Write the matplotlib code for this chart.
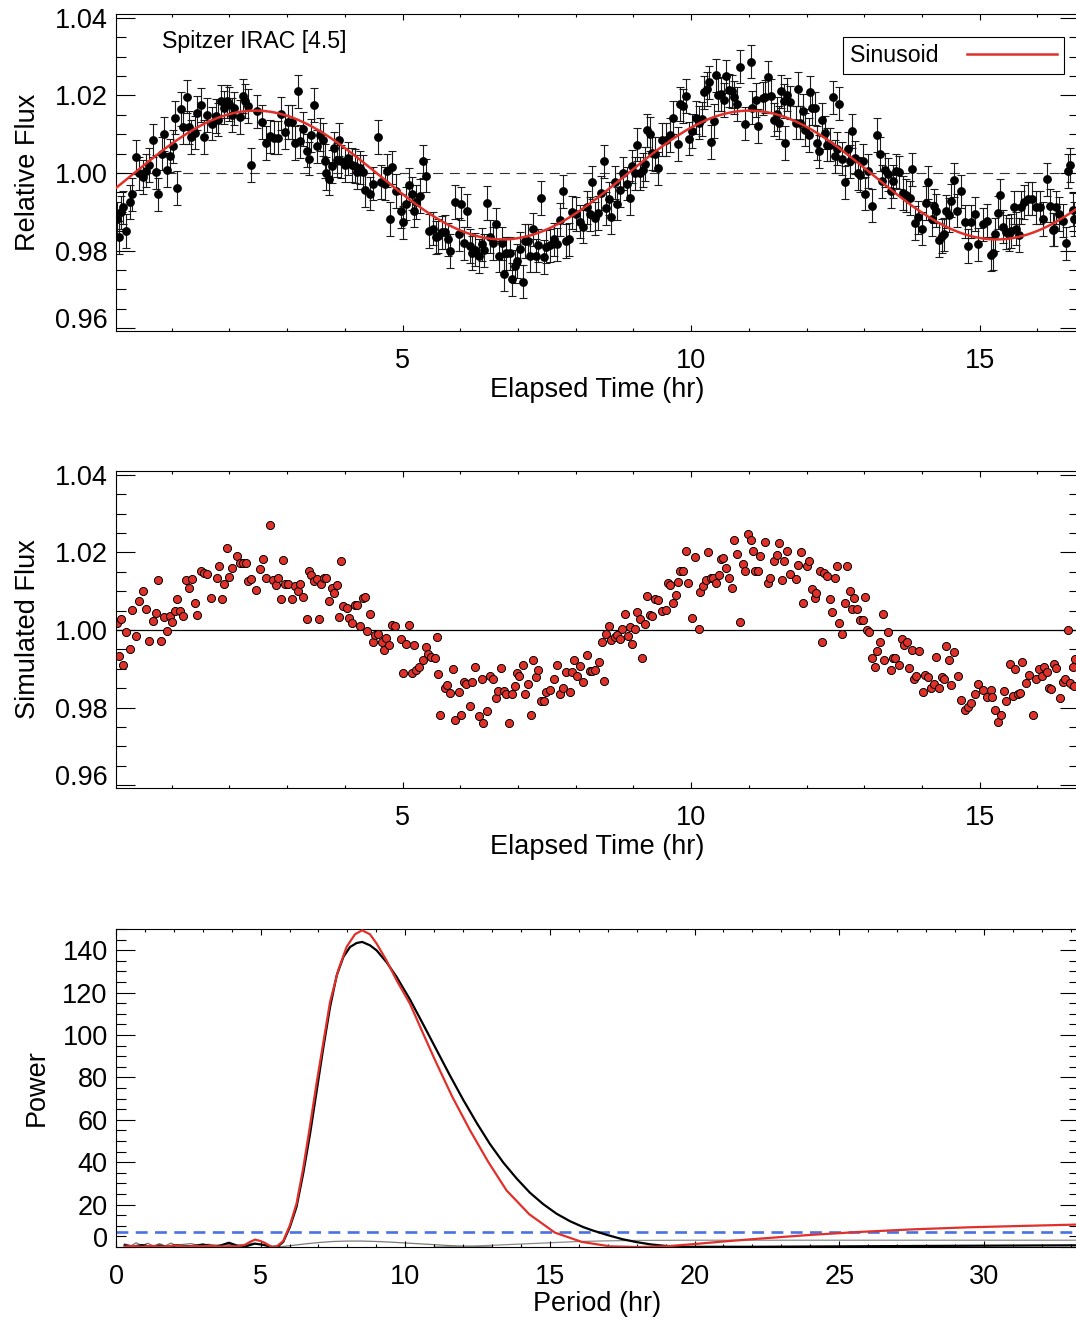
import matplotlib
matplotlib.use("Agg")
import matplotlib.pyplot as plt
import numpy as np
from matplotlib.lines import Line2D
from matplotlib.ticker import MultipleLocator, FormatStrFormatter

plt.rcParams['font.family'] = ['Liberation Sans', 'DejaVu Sans']

# ---- panel 1: Spitzer light curve (hours, relative flux) ----
time_obs = [
    0.06, 0.08, 0.12, 0.16, 0.21, 0.27, 0.31, 0.39, 0.44, 0.51,
    0.55, 0.61, 0.67, 0.73, 0.77, 0.83, 0.87, 0.91, 0.97, 1.02,
    1.06, 1.10, 1.16, 1.20, 1.26, 1.30, 1.34, 1.41, 1.44, 1.51,
    1.56, 1.62, 1.69, 1.77, 1.81, 1.86, 1.91, 1.95, 2.00, 2.04,
    2.08, 2.18, 2.23, 2.27, 2.33, 2.38, 2.47, 2.57, 2.63, 2.70,
    2.77, 2.85, 2.90, 2.96, 3.02, 3.08, 3.14, 3.19, 3.23, 3.28,
    3.34, 3.38, 3.42, 3.47, 3.51, 3.57, 3.63, 3.65, 3.68, 3.73,
    3.77, 3.81, 3.86, 3.90, 3.94, 4.00, 4.06, 4.12, 4.17, 4.21,
    4.26, 4.32, 4.35, 4.43, 4.49, 4.58, 4.62, 4.69, 4.73, 4.78,
    4.81, 4.88, 4.97, 5.01, 5.06, 5.12, 5.16, 5.20, 5.24, 5.30,
    5.35, 5.40, 5.46, 5.52, 5.58, 5.62,
    5.68, 5.73, 5.79, 5.83, 5.91, 5.98, 6.02, 6.06, 6.11, 6.16,
    6.21, 6.26, 6.32, 6.37, 6.41, 6.47, 6.51, 6.57, 6.62, 6.67,
    6.72, 6.76, 6.80, 6.86, 6.90, 6.95, 6.99, 7.03, 7.08, 7.13,
    7.18, 7.21, 7.26, 7.31, 7.35, 7.40, 7.45, 7.49, 7.55, 7.62,
    7.68, 7.73, 7.78, 7.83, 7.89, 7.94, 8.01, 8.07, 8.13, 8.19,
    8.24, 8.28, 8.33, 8.39, 8.44, 8.49, 8.53, 8.57, 8.62, 8.68,
    8.72, 8.76, 8.82, 8.88, 8.94, 8.97, 9.02, 9.06, 9.11, 9.16,
    9.20, 9.24, 9.28, 9.33, 9.37, 9.42, 9.50, 9.56, 9.63, 9.69,
    9.77, 9.80, 9.86, 9.91, 9.97, 10.02, 10.08, 10.14, 10.19, 10.22,
    10.27, 10.31, 10.35, 10.39, 10.43, 10.47, 10.51, 10.57, 10.60, 10.66,
    10.70, 10.75, 10.79, 10.84, 10.93, 11.03, 11.06, 11.12, 11.16,
    11.24, 11.28, 11.33, 11.39, 11.43, 11.48, 11.52, 11.56, 11.61, 11.62,
    11.66, 11.72, 11.81, 11.86, 11.89, 11.94, 11.97, 12.04, 12.06, 12.10,
    12.14, 12.18, 12.22, 12.26, 12.32, 12.35, 12.40, 12.45, 12.49, 12.53,
    12.57, 12.62, 12.66, 12.71, 12.75, 12.79, 12.84, 12.89, 12.93, 12.98,
    13.01, 13.07, 13.14, 13.22, 13.27, 13.31, 13.36, 13.41, 13.46, 13.50,
    13.55, 13.60, 13.67, 13.73, 13.79, 13.82, 13.87, 13.93, 14.00, 14.07,
    14.11, 14.17, 14.21, 14.25, 14.30, 14.34, 14.38, 14.42, 14.47, 14.51,
    14.56, 14.61, 14.67, 14.74, 14.80, 14.85, 14.91, 14.97, 15.05, 15.13,
    15.19, 15.23, 15.27, 15.31, 15.35, 15.40, 15.46, 15.51, 15.55, 15.60,
    15.63, 15.68, 15.72, 15.77, 15.83, 15.90, 15.98, 16.04, 16.10, 16.17,
    16.22, 16.27, 16.29, 16.33, 16.38, 16.44, 16.50, 16.53, 16.57, 16.61,
    16.64,
]
flux_obs = [
    0.9882, 0.9834, 0.9899, 0.9912, 0.9851, 0.9925, 0.9945, 1.0041, 0.9999, 0.9990,
    1.0006, 1.0021, 1.0084, 1.0003, 0.9945, 1.0050, 1.0101, 1.0008, 1.0045, 1.0069,
    1.0143, 0.9962, 1.0165, 1.0118, 1.0197, 1.0118, 1.0093, 1.0104, 1.0155, 1.0175,
    1.0093, 1.0150, 1.0127, 1.0147, 1.0138, 1.0185, 1.0169, 1.0185, 1.0178, 1.0150,
    1.0167, 1.0145, 1.0199, 1.0186, 1.0173, 1.0021, 1.0159, 1.0132, 1.0078, 1.0095,
    1.0091, 1.0091, 1.0153, 1.0106, 1.0132, 1.0132, 1.0078, 1.0211, 1.0082, 1.0114,
    1.0058, 1.0037, 1.0097, 1.0175, 1.0069, 1.0099, 1.0086, 1.0031, 0.9999, 0.9986,
    1.0017, 1.0064, 1.0034, 1.0086, 1.0030, 1.0021, 1.0038, 1.0021, 1.0018, 1.0003,
    1.0014, 1.0003, 0.9956, 0.9947, 0.9973, 1.0093, 0.9977, 0.9973, 1.0006, 0.9882,
    1.0015, 0.9954, 0.9902, 0.9873, 0.9921, 0.9969, 0.9947, 0.9903, 0.9925, 0.9941,
    1.0030, 0.9993, 0.9851, 0.9857, 0.9834, 0.9838,
    0.9847, 0.9848, 0.9829, 0.9799, 0.9925, 0.9842, 0.9921, 0.9819, 0.9903, 0.9812,
    0.9794, 0.9803, 0.9786, 0.9816, 0.9801, 0.9923, 0.9836, 0.9819, 0.9868, 0.9787,
    0.9819, 0.9740, 0.9793, 0.9793, 0.9726, 0.9760, 0.9773, 0.9805, 0.9720, 0.9825,
    0.9825, 0.9787, 0.9855, 0.9787, 0.9814, 0.9936, 0.9784, 0.9810, 0.9814, 0.9829,
    0.9816, 0.9880, 0.9953, 0.9825, 0.9829, 0.9899, 0.9895, 0.9875, 0.9862, 0.9912,
    0.9895, 0.9976, 0.9883, 0.9897, 0.9949, 1.0030, 0.9909, 0.9934, 0.9886, 0.9976,
    0.9921, 0.9956, 0.9999, 0.9973, 0.9936, 1.0017, 0.9999, 1.0073, 0.9999, 1.0008,
    1.0023, 1.0110, 1.0101, 1.0051, 1.0049, 1.0012, 1.0086, 1.0086, 1.0098, 1.0143,
    1.0075, 1.0178, 1.0173, 1.0199, 1.0089, 1.0108, 1.0143, 1.0130, 1.0139, 1.0208,
    1.0217, 1.0234, 1.0080, 1.0134, 1.0252, 1.0202, 1.0204, 1.0188, 1.0249, 1.0213,
    1.0211, 1.0195, 1.0178, 1.0274, 1.0127, 1.0287, 1.0169, 1.0188, 1.0121,
    1.0193, 1.0197, 1.0247, 1.0199, 1.0138, 1.0152, 1.0130, 1.0211, 1.0186, 1.0078,
    1.0202, 1.0182, 1.0130, 1.0217, 1.0130, 1.0160, 1.0112, 1.0098, 1.0208, 1.0167,
    1.0167, 1.0078, 1.0056, 1.0138, 1.0104, 1.0073, 1.0073, 1.0195, 1.0043, 1.0063,
    1.0179, 1.0037, 0.9976, 1.0063, 1.0030, 1.0108, 1.0040, 0.9999, 0.9995, 1.0031,
    0.9947, 1.0005, 0.9916, 1.0098, 1.0049, 0.9979, 1.0008, 0.9997, 0.9953, 0.9979,
    1.0005, 1.0002, 0.9949, 0.9943, 0.9936, 1.0010, 0.9871, 0.9886, 0.9857, 0.9923,
    0.9976, 0.9882, 0.9915, 0.9903, 0.9828, 0.9838, 0.9842, 0.9901, 0.9892, 0.9929,
    0.9982, 0.9903, 0.9953, 0.9875, 0.9812, 0.9875, 0.9895, 0.9816, 0.9868, 0.9877,
    0.9790, 0.9793, 0.9842, 0.9898, 0.9943, 0.9862, 0.9848, 0.9842, 0.9851, 0.9912,
    0.9857, 0.9840, 0.9912, 0.9925, 0.9934, 0.9934, 0.9912, 0.9912, 0.9882, 0.9984,
    0.9916, 0.9854, 0.9855, 0.9912, 0.9895, 0.9877, 0.9819, 1.0005, 1.0021, 0.9906,
    0.9882,
]
flux_err = 0.0043

# sinusoid fit
fit_mean = 0.9995
fit_amp = 0.0166
fit_period = 8.56
fit_peak_time = 2.45

# ---- panel 2: simulated light curve ----
time_sim = [
    0.06, 0.08, 0.12, 0.16, 0.21, 0.27, 0.31, 0.39, 0.44, 0.51,
    0.55, 0.61, 0.67, 0.72, 0.77, 0.81, 0.87, 0.92, 0.97, 1.01,
    1.06, 1.10, 1.15, 1.20, 1.24, 1.30, 1.35, 1.40, 1.44, 1.50,
    1.56, 1.62, 1.68, 1.78, 1.82, 1.87, 1.91, 1.95, 2.00, 2.04,
    2.13, 2.18, 2.24, 2.28, 2.32, 2.37, 2.46, 2.53, 2.58, 2.63,
    2.71, 2.75, 2.80, 2.85, 2.89, 2.92, 2.96, 3.02, 3.08, 3.14,
    3.19, 3.23, 3.28, 3.34, 3.38, 3.42, 3.46, 3.51, 3.55, 3.59,
    3.64, 3.68, 3.72, 3.77, 3.82, 3.87, 3.90, 3.94, 3.97, 4.03,
    4.08, 4.12, 4.17, 4.21, 4.26, 4.31, 4.35, 4.39, 4.43, 4.48,
    4.53, 4.58, 4.64, 4.68, 4.72, 4.77, 4.81, 4.87, 4.97, 5.01,
    5.06, 5.12, 5.16, 5.20, 5.24, 5.29, 5.35, 5.40, 5.44, 5.50,
    5.56, 5.59, 5.62, 5.65,
    5.73, 5.77, 5.82, 5.87, 5.91, 5.98, 6.02, 6.06, 6.10, 6.16,
    6.21, 6.25, 6.32, 6.37, 6.40, 6.47, 6.51, 6.57, 6.62, 6.66,
    6.70, 6.76, 6.80, 6.85, 6.89, 6.95, 6.99, 7.02, 7.08, 7.13,
    7.18, 7.22, 7.26, 7.31, 7.35, 7.40, 7.45, 7.49, 7.55, 7.62,
    7.67, 7.73, 7.78, 7.83, 7.90, 7.93, 7.97, 8.03, 8.07, 8.13,
    8.19, 8.24, 8.28, 8.33, 8.40, 8.45, 8.49, 8.53, 8.57, 8.62,
    8.68, 8.72, 8.76, 8.81, 8.85, 8.90, 8.94, 8.98, 9.02, 9.06,
    9.11, 9.15, 9.20, 9.24, 9.28, 9.33, 9.37, 9.42, 9.50, 9.56,
    9.60, 9.64, 9.69, 9.74, 9.78, 9.81, 9.86, 9.91, 9.95, 10.02,
    10.06, 10.13, 10.16, 10.21, 10.26, 10.30, 10.35, 10.38, 10.43, 10.48,
    10.51, 10.56, 10.60, 10.66, 10.70, 10.74, 10.80, 10.84, 10.89, 10.93,
    10.99, 11.03, 11.07, 11.11, 11.16, 11.19,
    11.28, 11.33, 11.37, 11.43, 11.48, 11.52, 11.57, 11.61, 11.66, 11.72,
    11.81, 11.85, 11.90, 11.94, 12.00, 12.04, 12.09, 12.14, 12.17, 12.23,
    12.26, 12.30, 12.35, 12.40, 12.44, 12.49, 12.53, 12.57, 12.62, 12.66,
    12.70, 12.75, 12.79, 12.83, 12.88, 12.92, 12.97, 13.01, 13.04, 13.08,
    13.14, 13.18, 13.22, 13.27, 13.32, 13.35, 13.41, 13.46, 13.50, 13.54,
    13.60, 13.65, 13.69, 13.74, 13.78, 13.82, 13.86, 13.90, 13.95, 14.01,
    14.05, 14.11, 14.15, 14.20, 14.25, 14.30, 14.34, 14.38, 14.42, 14.47,
    14.51, 14.55, 14.62, 14.68, 14.74, 14.80, 14.85, 14.92, 14.97, 15.05,
    15.13, 15.19, 15.22, 15.27, 15.31, 15.36, 15.42, 15.46, 15.52, 15.57,
    15.61, 15.66, 15.70, 15.74, 15.80, 15.85, 15.92, 15.98, 16.02, 16.08,
    16.12, 16.17, 16.20, 16.24, 16.29, 16.33, 16.39, 16.44, 16.48, 16.53,
    16.57, 16.61, 16.63, 16.65,
]
flux_sim = [
    1.0017, 0.9932, 1.0029, 0.9910, 0.9994, 0.9952, 1.0051, 0.9985, 1.0074, 1.0100,
    1.0054, 0.9971, 1.0024, 1.0045, 1.0130, 0.9971, 1.0035, 0.9997, 1.0037, 1.0022,
    1.0048, 1.0080, 1.0048, 1.0037, 1.0130, 1.0109, 1.0132, 1.0071, 1.0039, 1.0151,
    1.0148, 1.0145, 1.0083, 1.0135, 1.0166, 1.0080, 1.0120, 1.0212, 1.0138, 1.0159,
    1.0190, 1.0172, 1.0172, 1.0172, 1.0126, 1.0131, 1.0103, 1.0157, 1.0184, 1.0134,
    1.0272, 1.0129, 1.0116, 1.0135, 1.0080, 1.0180, 1.0118, 1.0118, 1.0081, 1.0113,
    1.0102, 1.0118, 1.0085, 1.0028, 1.0151, 1.0142, 1.0126, 1.0131, 1.0028, 1.0119,
    1.0133, 1.0135, 1.0074, 1.0109, 1.0096, 1.0116, 1.0035, 1.0179, 1.0061, 1.0057,
    1.0032, 1.0017, 1.0064, 1.0065, 1.0011, 1.0083, 1.0086, 0.9997, 1.0042, 0.9970,
    0.9987, 0.9991, 0.9970, 0.9948, 0.9980, 0.9961, 1.0013, 1.0011, 0.9978, 0.9889,
    0.9963, 1.0013, 0.9889, 0.9961, 0.9898, 0.9904, 0.9922, 0.9956, 0.9939, 0.9930,
    0.9928, 0.9983, 0.9887, 0.9782,
    0.9852, 0.9858, 0.9839, 0.9900, 0.9769, 0.9841, 0.9782, 0.9867, 0.9861, 0.9804,
    0.9867, 0.9906, 0.9778, 0.9874, 0.9760, 0.9791, 0.9882, 0.9874, 0.9826, 0.9843,
    0.9902, 0.9843, 0.9835, 0.9760, 0.9835, 0.9855, 0.9889, 0.9881, 0.9909, 0.9835,
    0.9861, 0.9780, 0.9922, 0.9878, 0.9898, 0.9817, 0.9817, 0.9841, 0.9846, 0.9875,
    0.9910, 0.9835, 0.9852, 0.9893, 0.9841, 0.9893, 0.9922, 0.9882, 0.9907, 0.9867,
    0.9936, 0.9895, 0.9895, 0.9898, 0.9919, 0.9968, 0.9869, 0.9991, 1.0011, 0.9974,
    0.9983, 0.9987, 0.9976, 1.0003, 1.0041, 0.9985, 1.0009, 0.9965, 1.0003, 1.0046,
    1.0029, 0.9928, 1.0015, 1.0087, 1.0039, 1.0037, 1.0081, 1.0078, 1.0050, 1.0052,
    1.0122, 1.0116, 1.0070, 1.0090, 1.0124, 1.0152, 1.0152, 1.0205, 1.0122, 1.0032,
    1.0189, 1.0004, 1.0098, 1.0113, 1.0128, 1.0202, 1.0133, 1.0133, 1.0122, 1.0142,
    1.0183, 1.0187, 1.0161, 1.0133, 1.0109, 1.0233, 1.0196, 1.0022, 1.0170, 1.0152,
    1.0248, 1.0231, 1.0205, 1.0152, 1.0152, 1.0192,
    1.0226, 1.0122, 1.0133, 1.0179, 1.0193, 1.0225, 1.0128, 1.0179, 1.0205, 1.0145,
    1.0131, 1.0168, 1.0200, 1.0070, 1.0165, 1.0177, 1.0105, 1.0083, 1.0096, 1.0151,
    0.9968, 1.0148, 1.0139, 1.0080, 1.0046, 1.0135, 1.0165, 1.0017, 0.9989, 1.0071,
    1.0165, 1.0100, 1.0055, 1.0083, 1.0055, 1.0026, 1.0026, 1.0084, 1.0000, 0.9996,
    0.9928, 0.9906, 0.9945, 0.9970, 1.0041, 0.9922, 0.9994, 0.9898, 0.9928, 0.9928,
    0.9910, 0.9976, 0.9961, 0.9970, 0.9902, 0.9948, 0.9875, 0.9881, 0.9945, 0.9841,
    0.9884, 0.9878, 0.9852, 0.9861, 0.9930, 0.9852, 0.9878, 0.9874, 0.9959, 0.9922,
    0.9858, 0.9943, 0.9881, 0.9820, 0.9795, 0.9802, 0.9813, 0.9835, 0.9861, 0.9846,
    0.9828, 0.9846, 0.9828, 0.9795, 0.9762, 0.9782, 0.9843, 0.9817, 0.9913, 0.9830,
    0.9900, 0.9835, 0.9837, 0.9919, 0.9863, 0.9884, 0.9780, 0.9875, 0.9900, 0.9882,
    0.9904, 0.9891, 0.9852, 0.9848, 0.9913, 0.9902, 0.9826, 0.9867, 0.9875, 1.0000,
    0.9863, 0.9904, 0.9856, 0.9926,
]

# ---- panel 3: periodograms ----
period_obs = [0.3, 0.6, 0.9, 1.2, 1.5, 1.8, 2.1, 2.4, 2.7, 3.0, 3.3, 3.6, 3.9, 4.2, 4.5, 4.8, 5.1, 5.4, 5.6,
              5.78, 6.01, 6.24, 6.47, 6.71, 6.94, 7.17, 7.40,
              7.63, 7.86, 8.09, 8.32, 8.51, 8.78, 9.01, 9.35, 9.70,
              10.16, 10.62, 11.08, 11.54, 12.00, 12.47, 12.93, 13.39, 13.85,
              14.31, 14.77, 15.23, 15.69, 16.15, 16.5, 17.0, 17.5, 18.0,
              18.5, 19.0, 19.5, 22.0, 25.0, 28.0, 33.3]
power_obs = [0.8, 0.3, 0.9, 0.2, 0.7, 0.1, 0.9, 0.3, 0.5, 1.2, 0.4, 0.6, 2.0, 0.6, 0.4, 1.6, 1.0, 0.0, 0.3,
             2.4, 9.4, 18.9, 34.6, 53.5, 73.9, 94.3, 113.2,
             128.1, 136.8, 141.5, 143.4, 143.9, 142.3, 139.9, 134.4, 127.4,
             116.8, 105.0, 93.0, 81.0, 69.5, 58.5, 48.5, 39.8, 32.3,
             25.6, 20.2, 15.7, 12.2, 9.4, 7.7, 5.6, 3.7, 2.3,
             1.2, 0.5, 0.1, 0.1, 0.3, 0.5, 0.8]

period_sim = [0.3, 0.6, 0.9, 1.2, 1.5, 1.8, 2.1, 2.4, 2.7, 3.0, 3.3, 3.6, 3.9, 4.2,
              4.45, 4.63, 4.81, 5.0, 5.15, 5.39, 5.55,
              5.78, 6.01, 6.24, 6.47, 6.71, 6.94, 7.17, 7.40,
              7.68, 7.97, 8.26, 8.51, 8.78, 9.01, 9.35, 9.70,
              10.16, 10.62, 11.03, 11.62, 12.24, 12.87, 13.50,
              14.29, 15.17, 16.10, 17.08, 18.0, 19.0, 20.0,
              21.0, 22.3, 24.0, 25.7, 27.5, 29.5, 31.5, 33.3]
power_sim = [0.2, 0.5, 0.1, 0.6, 0.2, 0.4, 0.8, 0.2, 0.5, 0.3, 0.6, 0.2, 0.4, 0.3,
             1.0, 2.4, 3.5, 2.8, 1.9, 0.0, 0.2,
             2.8, 10.2, 20.4, 37.0, 57.4, 77.8, 96.7, 115.6,
             130.5, 141.5, 147.5, 149.4, 147.5, 143.1, 135.2, 125.8,
             114.8, 100.6, 88.1, 71.0, 55.0, 40.1, 26.7,
             15.4, 6.8, 2.4, 0.3, 0.0, 0.3, 1.4,
             2.6, 4.0, 5.7, 7.1, 8.3, 9.3, 10.0, 10.6]

noise_period_a = [0.3, 0.5, 0.7, 0.9, 1.1, 1.3, 1.5, 1.7, 1.9, 2.1, 2.3, 2.6, 2.9, 3.2, 3.5, 3.8,
                  4.1, 4.4, 4.7, 5.0, 5.3, 5.6, 6.0, 6.5, 7.0, 7.5, 8.0, 8.5, 9.0, 9.5, 10.0,
                  10.5, 11.0, 11.5, 12.0, 13.0]
noise_power_a = [1.5, 0.4, 2.0, 0.6, 1.8, 0.3, 1.6, 0.5, 1.9, 0.4, 1.2, 1.6, 0.5, 1.3, 0.7, 1.5,
                 0.6, 1.0, 1.8, 1.2, 0.5, 0.0, 0.6, 1.4, 2.1, 2.6, 2.8, 2.8, 2.6, 2.3, 1.9,
                 1.5, 1.1, 0.7, 0.4, 0.0]
noise_period_b = [11.0, 12.0, 13.0, 14.0, 15.0, 16.0, 17.0, 18.0, 20.0, 22.0, 25.0, 28.0, 31.0, 33.3]
noise_power_b = [0.0, 0.3, 0.8, 1.4, 2.0, 2.6, 2.9, 3.1, 3.2, 3.2, 3.2, 3.2, 3.2, 3.2]
false_alarm_level = 7.0

RED = '#e0302a'
FS = 19.5
W, H = 1076, 1319

fig = plt.figure(figsize=(W / 100, H / 100), dpi=100)


def px_axes(left, top, right, bottom):
    return fig.add_axes([left / W, 1 - bottom / H, (right - left) / W, (bottom - top) / H])


def style(ax, xmaj, xmin, ymaj, ymin):
    ax.xaxis.set_major_locator(MultipleLocator(xmaj))
    ax.xaxis.set_minor_locator(MultipleLocator(xmin))
    ax.yaxis.set_major_locator(MultipleLocator(ymaj))
    ax.yaxis.set_minor_locator(MultipleLocator(ymin))
    ax.tick_params(which='both', direction='in', top=True, right=True,
                   labelsize=FS, width=0.8, color='black')
    ax.tick_params(axis='x', which='major', length=4.5, pad=12)
    ax.tick_params(axis='x', which='minor', length=2.2)
    ax.tick_params(axis='y', which='major', length=13.7, pad=6)
    ax.tick_params(axis='y', which='minor', length=7)
    for s in ax.spines.values():
        s.set_linewidth(0.8)


ax1 = px_axes(116, 14, 1079, 331)
ax2 = px_axes(116, 471, 1079, 788)
ax3 = px_axes(116, 929, 1079, 1247)

# panel 1
ax1.axhline(1.0, color='#333333', lw=0.8, ls=(0, (9, 6)), zorder=1)
ax1.errorbar(time_obs, flux_obs, yerr=flux_err, fmt='o', color='black', ms=5.3,
             ecolor='#1a1a1a', elinewidth=0.8, capsize=2.8, capthick=0.8, zorder=2)
t_fit = np.linspace(0, 16.8, 400)
ax1.plot(t_fit, fit_mean + fit_amp * np.cos(2 * np.pi * (t_fit - fit_peak_time) / fit_period),
         color=RED, lw=1.8, zorder=3)
ax1.set_xlim(0.035, 16.72)
ax1.set_ylim(0.9593, 1.041)
style(ax1, 5, 1, 0.02, 0.005)
ax1.yaxis.set_major_formatter(FormatStrFormatter('%.2f'))
ax1.set_xlabel('Elapsed Time (hr)', fontsize=FS)
ax1.set_ylabel('Relative Flux', fontsize=FS)
ax1.xaxis.set_label_coords(0.5, -0.145)
ax1.yaxis.set_label_coords(-0.078, 0.5)
ax1.text(0.048, 0.912, 'Spitzer IRAC [4.5]', transform=ax1.transAxes,
         fontsize=16.7, va='center', ha='left')
leg = ax1.legend(handles=[Line2D([], [], color=RED, lw=1.8)], labels=['Sinusoid'],
                 loc='upper right', bbox_to_anchor=(0.9844, 0.9274), markerfirst=False,
                 fancybox=False, edgecolor='black', framealpha=1, fontsize=16.7,
                 handlelength=3.9, handletextpad=1.2, borderpad=0.3, borderaxespad=0)
leg.get_frame().set_linewidth(0.8)

# panel 2
ax2.axhline(1.0, color='black', lw=0.9, zorder=1)
ax2.plot(time_sim, flux_sim, 'o', mfc=RED, mec='black', mew=0.7, ms=5.8, zorder=2)
ax2.set_xlim(0.035, 16.72)
ax2.set_ylim(0.9593, 1.041)
style(ax2, 5, 1, 0.02, 0.005)
ax2.yaxis.set_major_formatter(FormatStrFormatter('%.2f'))
ax2.set_xlabel('Elapsed Time (hr)', fontsize=FS)
ax2.set_ylabel('Simulated Flux', fontsize=FS)
ax2.xaxis.set_label_coords(0.5, -0.145)
ax2.yaxis.set_label_coords(-0.078, 0.5)

# panel 3
ax3.plot(noise_period_a, noise_power_a, color='#7a7a7a', lw=0.9, zorder=1)
ax3.plot(noise_period_b, noise_power_b, color='#8a8a8a', lw=0.9, zorder=1)
ax3.axhline(false_alarm_level, color='#4a72e0', lw=1.9, dashes=(4.5, 2.8), zorder=2)
ax3.plot(period_obs, power_obs, color='black', lw=1.6, zorder=3)
ax3.plot(period_sim, power_sim, color=RED, lw=1.6, zorder=4)
ax3.set_xlim(0, 33.29)
ax3.set_ylim(0, 150)
style(ax3, 5, 1, 20, 5)
ax3.set_xlabel('Period (hr)', fontsize=FS)
ax3.set_ylabel('Power', fontsize=FS)
ax3.xaxis.set_label_coords(0.5, -0.138)
ax3.yaxis.set_label_coords(-0.069, 0.5)

# lowest y label sits on the axis line, like the original
fig.canvas.draw()
for ax, low in [(ax1, 0.96), (ax2, 0.96), (ax3, 0.0)]:
    for tick in ax.yaxis.get_major_ticks():
        if abs(tick.get_loc() - low) < 1e-6:
            tick.label1.set_va('baseline')

fig.savefig('out.png', dpi=100)
